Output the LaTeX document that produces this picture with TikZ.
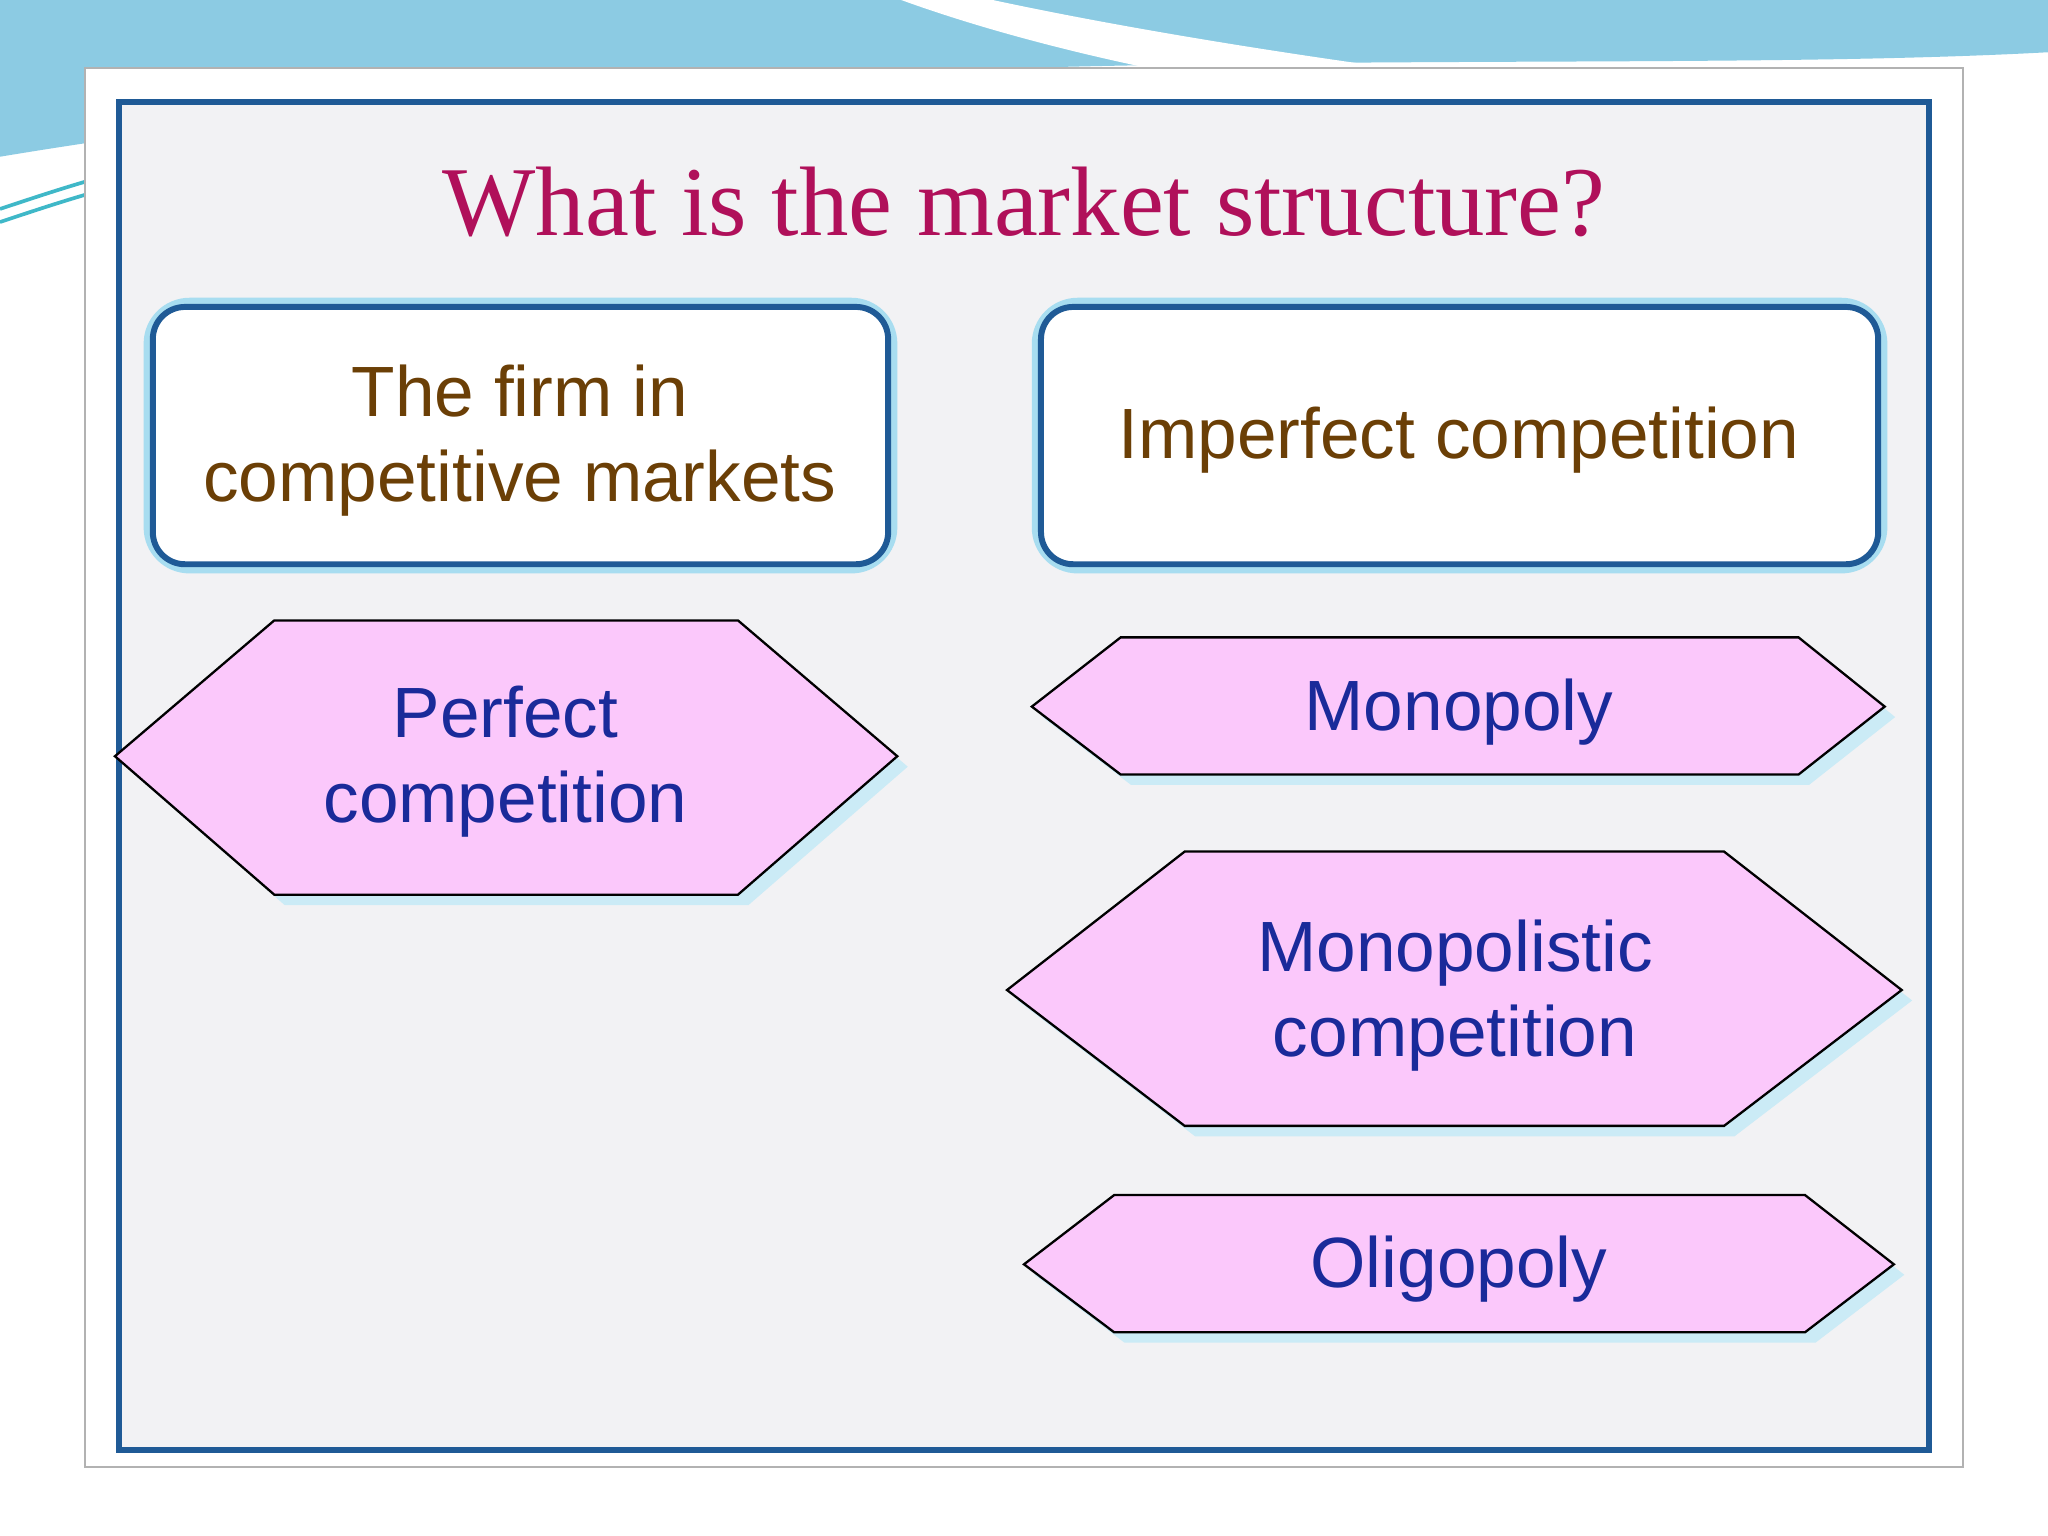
\documentclass[tikz,border=0pt]{standalone}
\usepackage{fontspec}
\setmainfont{Liberation Sans}
\newfontfamily\titlefont{Liberation Serif}
\definecolor{titlec}{HTML}{B0105A}
\definecolor{frameb}{HTML}{1F5A96}
\definecolor{boxtxt}{HTML}{6B3F06}
\definecolor{hexfill}{HTML}{FBC8FB}
\definecolor{hextxt}{HTML}{1A2A9A}
\definecolor{glow}{HTML}{A8DDF0}
\definecolor{bgpanel}{HTML}{F2F2F4}
\definecolor{sky}{HTML}{8CCBE3}
\definecolor{teal1}{HTML}{3FB8C8}
\tikzset{
  hexa/.style={draw=black, line width=0.5pt, fill=hexfill},
  hexshadow/.style={fill=glow!60, draw=none},
  hextext/.style={text=hextxt, font=\fontsize{15.5}{18.5}\selectfont, align=center},
  topbox/.style={draw=frameb, line width=1.3pt, fill=white, rounded corners=7pt},
  topglow/.style={draw=glow, line width=4pt, rounded corners=8pt},
  boxtext/.style={text=boxtxt, font=\fontsize{15.5}{18.5}\selectfont, align=center}
}
\begin{document}
\begin{tikzpicture}[x=0.01cm,y=-0.01cm]
\useasboundingbox (0,0) rectangle (1568,1176);
\fill[white] (0,0) rectangle (1568,1176);
% top decoration
\fill[sky] (0,0) -- (1568,0) -- (1568,40) .. controls (1200,60) and (600,20) .. (0,120) -- cycle;
\draw[teal1, line width=0.8pt] (0,170) .. controls (30,160) and (60,150) .. (91,142);
\draw[teal1, line width=0.8pt] (0,160) .. controls (30,150) and (60,140) .. (91,132);
\fill[white] (690,0) .. controls (800,40) and (950,70) .. (1060,80) -- (1300,80) .. controls (1100,60) and (900,30) .. (760,0) -- cycle;
% frames
\draw[gray!60, line width=0.4pt, fill=white] (65,52) rectangle (1503,1123);
\draw[frameb, line width=1.3pt, fill=bgpanel] (91,78) rectangle (1477,1110);
% title
\node[text=titlec, font=\titlefont\fontsize{21.5}{25}\selectfont] (title) at (784,155) {What is the market structure?};
% top boxes
\draw[topglow] (117,235) rectangle (680,432);
\draw[topbox] (117,235) rectangle (680,432);
\node[boxtext] (firm) at (398,337) {The firm in\\competitive markets};
\draw[topglow] (797,235) rectangle (1438,432);
\draw[topbox] (797,235) rectangle (1438,432);
\node[boxtext] (imperf) at (1117,337) {Imperfect competition};
% hexagons
\fill[hexshadow] (96,587) -- (218,483) -- (573,483) -- (695,587) -- (573,693) -- (218,693) -- cycle;
\draw[hexa] (88,579) -- (210,475) -- (565,475) -- (687,579) -- (565,685) -- (210,685) -- cycle;
\node[hextext] (perfect) at (387,583) {Perfect\\competition};
\fill[hexshadow] (798,549) -- (866,496) -- (1385,496) -- (1451,549) -- (1385,601) -- (866,601) -- cycle;
\draw[hexa] (790,541) -- (858,488) -- (1377,488) -- (1443,541) -- (1377,593) -- (858,593) -- cycle;
\node[hextext] (mono) at (1117,545) {Monopoly};
\fill[hexshadow] (779,766) -- (915,660) -- (1328,660) -- (1464,766) -- (1328,870) -- (915,870) -- cycle;
\draw[hexa] (771,758) -- (907,652) -- (1320,652) -- (1456,758) -- (1320,862) -- (907,862) -- cycle;
\node[hextext] (monopolistic) at (1114,762) {Monopolistic\\competition};
\fill[hexshadow] (792,976) -- (861,923) -- (1390,923) -- (1458,976) -- (1390,1028) -- (861,1028) -- cycle;
\draw[hexa] (784,968) -- (853,915) -- (1382,915) -- (1450,968) -- (1382,1020) -- (853,1020) -- cycle;
\node[hextext] (oligo) at (1117,972) {Oligopoly};
\end{tikzpicture}
\end{document}
